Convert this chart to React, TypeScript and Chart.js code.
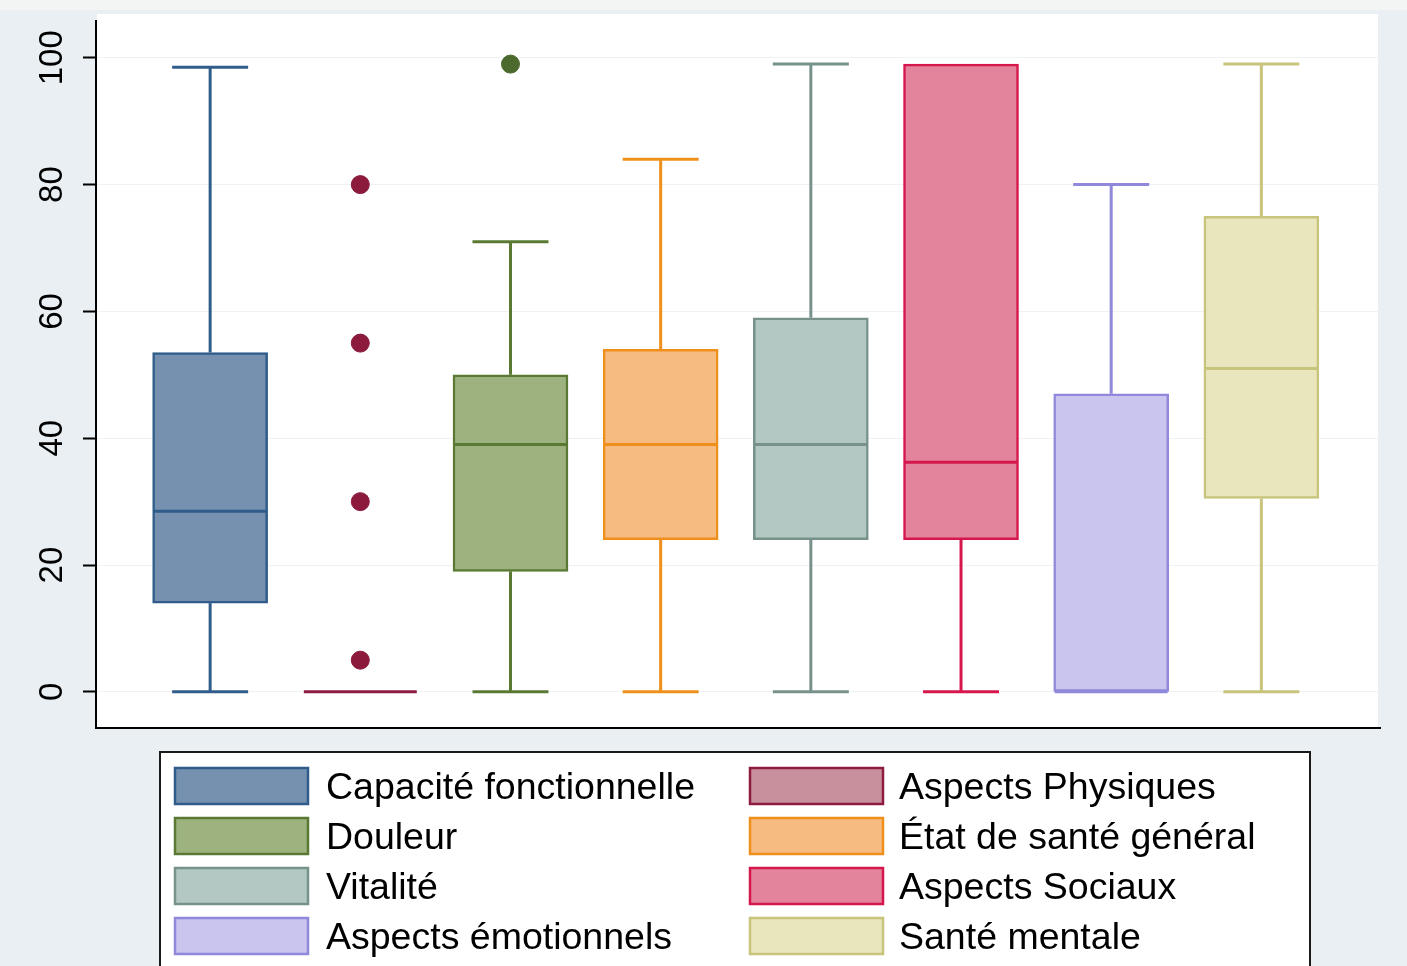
import React, { useEffect, useRef } from "react";
import { Chart, registerables } from "chart.js";

Chart.register(...registerables);

const categories = [
  "Capacité fonctionnelle",
  "Aspects Physiques",
  "Douleur",
  "État de santé général",
  "Vitalité",
  "Aspects Sociaux",
  "Aspects émotionnels",
  "Santé mentale",
];
const q1Values = [14, 0, 19, 24, 24, 24, 0, 30.5];
const medianValues = [28.5, 0, 39, 39, 39, 36.2, 0, 51];
const q3Values = [53.5, 0, 50, 54, 59, 99, 47, 75];
const whiskerLow = [0, 0, 0, 0, 0, 0, 0, 0];
const whiskerHigh = [98.5, 0, 71, 84, 99, 99, 80, 99];
const outlierCategory = [1, 1, 1, 1, 2];
const outlierValues = [80, 55, 30, 5, 99];
const yTickValues = [0, 20, 40, 60, 80, 100];

const fillColors = ["#7690b0", "#c8909c", "#9db27f", "#f6bb80", "#b3c8c3", "#e4849c", "#c9c5ee", "#e9e5bd"];
const strokeColors = ["#2f5c8a", "#8e1c40", "#5a7a34", "#f0901c", "#77918b", "#d6174c", "#9088da", "#c8c47c"];
const outlierColors = ["#8b1a3d", "#8b1a3d", "#8b1a3d", "#8b1a3d", "#4d6a2e"];

const FONT = "'Liberation Sans', Arial, sans-serif";

const boxPlugin = {
  id: "boxExtras",
  beforeDraw(chart: any) {
    const { ctx, chartArea } = chart;
    ctx.save();
    ctx.fillStyle = "#e9eff2";
    ctx.fillRect(0, 0, chart.width, chart.height);
    ctx.fillStyle = "#f3f5f5";
    ctx.fillRect(0, 0, chart.width, 10);
    ctx.fillStyle = "#ffffff";
    ctx.fillRect(chartArea.left + 1, chartArea.top - 7, chartArea.right - chartArea.left - 3, chartArea.bottom - chartArea.top + 7);
    ctx.restore();
  },
  afterDatasetsDraw(chart: any) {
    const { ctx } = chart;
    const xs = chart.scales.x;
    const ys = chart.scales.y;
    const capHalf = 0.253;
    const boxHalf = 0.376;
    ctx.save();
    ctx.lineWidth = 3;
    ctx.lineCap = "butt";
    categories.forEach((_, i) => {
      ctx.strokeStyle = strokeColors[i];
      const cx = xs.getPixelForValue(i);
      if (whiskerHigh[i] > q3Values[i]) {
        ctx.beginPath();
        ctx.moveTo(cx, ys.getPixelForValue(q3Values[i]));
        ctx.lineTo(cx, ys.getPixelForValue(whiskerHigh[i]));
        ctx.stroke();
        ctx.beginPath();
        ctx.moveTo(xs.getPixelForValue(i - capHalf), ys.getPixelForValue(whiskerHigh[i]));
        ctx.lineTo(xs.getPixelForValue(i + capHalf), ys.getPixelForValue(whiskerHigh[i]));
        ctx.stroke();
      }
      if (q1Values[i] > whiskerLow[i]) {
        ctx.beginPath();
        ctx.moveTo(cx, ys.getPixelForValue(q1Values[i]));
        ctx.lineTo(cx, ys.getPixelForValue(whiskerLow[i]));
        ctx.stroke();
        ctx.beginPath();
        ctx.moveTo(xs.getPixelForValue(i - capHalf), ys.getPixelForValue(whiskerLow[i]));
        ctx.lineTo(xs.getPixelForValue(i + capHalf), ys.getPixelForValue(whiskerLow[i]));
        ctx.stroke();
      }
      ctx.beginPath();
      ctx.moveTo(xs.getPixelForValue(i - boxHalf), ys.getPixelForValue(medianValues[i]));
      ctx.lineTo(xs.getPixelForValue(i + boxHalf), ys.getPixelForValue(medianValues[i]));
      ctx.stroke();
    });
    ctx.restore();
  },
  afterDraw(chart: any) {
    const { ctx } = chart;
    const ys = chart.scales.y;
    ctx.save();
    ctx.fillStyle = "#000";
    ctx.font = `33px ${FONT}`;
    ctx.textAlign = "center";
    ctx.textBaseline = "middle";
    yTickValues.forEach((v) => {
      const y = ys.getPixelForValue(v);
      ctx.save();
      ctx.translate(53, y);
      ctx.rotate(-Math.PI / 2);
      ctx.fillText(String(v), 0, 0);
      ctx.restore();
    });
    const lx = 160, ly = 752, lw = 1150;
    ctx.fillStyle = "#ffffff";
    ctx.fillRect(lx, ly, lw, chart.height - ly + 10);
    ctx.strokeStyle = "#1a1a1a";
    ctx.lineWidth = 2;
    ctx.strokeRect(lx, ly, lw, chart.height - ly + 10);
    const colSwatchX = [175, 750];
    const colTextX = [326, 899];
    const rowTop = [768, 818, 868, 918];
    ctx.font = `37.5px ${FONT}`;
    ctx.textAlign = "left";
    ctx.textBaseline = "middle";
    categories.forEach((name, i) => {
      const col = i % 2;
      const row = Math.floor(i / 2);
      const sx = colSwatchX[col];
      const sy = rowTop[row];
      ctx.fillStyle = fillColors[i];
      ctx.fillRect(sx, sy, 133, 36);
      ctx.strokeStyle = strokeColors[i];
      ctx.lineWidth = 2.5;
      ctx.strokeRect(sx, sy, 133, 36);
      ctx.fillStyle = "#000";
      ctx.fillText(name, colTextX[col], sy + 21);
    });
    ctx.restore();
  },
};

export default function App() {
  const canvasRef = useRef<HTMLCanvasElement | null>(null);

  useEffect(() => {
    document.body.style.margin = "0";
    document.body.style.overflow = "hidden";
    const canvas = canvasRef.current;
    if (!canvas) return;
    const chart = new Chart(canvas, {
      type: "bar",
      data: {
        datasets: [
          {
            type: "bar",
            label: "boxes",
            data: categories.map((_, i) => ({ x: i, y: [q1Values[i], q3Values[i]] })) as any,
            backgroundColor: fillColors,
            borderColor: strokeColors,
            borderWidth: 2.5,
            borderSkipped: false,
            barThickness: 115,
          } as any,
          {
            type: "scatter",
            label: "outliers",
            data: outlierValues.map((v, k) => ({ x: outlierCategory[k], y: v })),
            backgroundColor: outlierColors,
            borderColor: outlierColors,
            pointRadius: 9,
            pointHoverRadius: 9,
            showLine: false,
          } as any,
        ],
      },
      options: {
        responsive: false,
        animation: false,
        events: [],
        layout: { padding: { left: 0, top: 21, right: 27, bottom: 0 } },
        plugins: {
          legend: { display: false },
          tooltip: { enabled: false },
        },
        scales: {
          x: {
            type: "linear",
            offset: false,
            min: -0.76,
            max: 7.79,
            grid: { display: false, drawTicks: false, offset: false },
            ticks: { display: false },
            border: { display: true, color: "#000", width: 2 },
            afterFit: (scale: any) => {
              scale.height = 238;
            },
          },
          y: {
            type: "linear",
            min: -5.7,
            max: 105.8,
            afterBuildTicks: (scale: any) => {
              scale.ticks = yTickValues.map((v) => ({ value: v }));
            },
            ticks: { display: false },
            grid: {
              color: "#eef2f4",
              lineWidth: 1,
              drawTicks: true,
              tickLength: 13,
              tickColor: "#000",
              tickWidth: 2,
            },
            border: { display: true, color: "#000", width: 2 },
            afterFit: (scale: any) => {
              scale.width = 96;
            },
          },
        },
      } as any,
      plugins: [boxPlugin],
    });
    return () => chart.destroy();
  }, []);

  return (
    <div style={{ width: 1407, height: 966 }}>
      <canvas ref={canvasRef} width={1407} height={966} style={{ display: "block" }} />
    </div>
  );
}
